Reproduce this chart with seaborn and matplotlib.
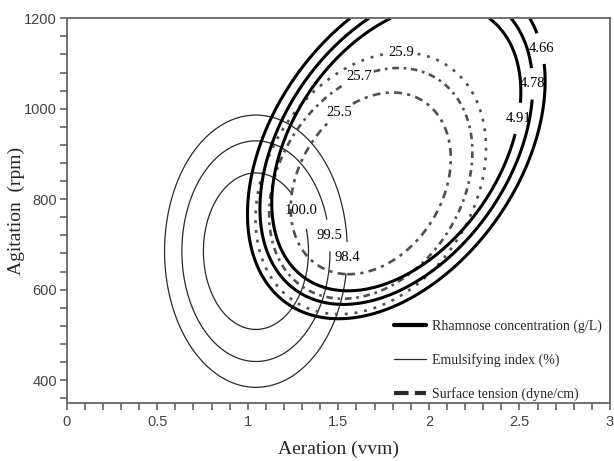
import numpy as np
import matplotlib
matplotlib.use("Agg")
import matplotlib.pyplot as plt
from matplotlib.lines import Line2D
from matplotlib.ticker import MultipleLocator, FormatStrFormatter
import seaborn as sns

# axis ranges
AERATION_LIM = [0, 3]
AGITATION_LIM = [350, 1200]
RPM_PER_VVM = 400  # one vvm spans the same length as 400 rpm on the plot

# Rhamnose concentration (g/L) - thick solid contours
rham_levels = [4.91, 4.78, 4.66]
rham_scale = [1.0, 1.095, 1.195]
rham_center = [1.82, 914]
rham_axes = [0.88, 0.57]
rham_angle = 55

# Surface tension (dyne/cm) - dashed contours
surf_levels = [25.5, 25.7, 25.9]
surf_scale = [1.0, 1.27, 1.44]
surf_center = [1.679, 835]
surf_axes = [0.539, 0.396]
surf_angle = 57.6

# Emulsifying index (%) - thin contours
emul_levels = [100.0, 99.5, 98.4]
emul_scale = [1.0, 1.41, 1.74]
emul_center = [1.045, 685]
emul_axes = [0.4325, 0.29]
emul_angle = 90

legend_labels = ["Rhamnose concentration (g/L)", "Emulsifying index (%)",
                 "Surface tension (dyne/cm)"]

# label spots (aeration, agitation), one per level
rham_label_pos = [(2.47, 980), (2.56, 1055), (2.64, 1135)]
surf_label_pos = [(1.52, 985), (1.62, 1065), (1.85, 1120)]
emul_label_pos = [(1.29, 775), (1.45, 720), (1.56, 670)]

# line styles per level
rham_styles = ["solid", "solid", "solid"]
surf_styles = [(0, (3, 2, 1.2, 2)), (0, (2.5, 1.8, 1, 1.8)), (0, (1.1, 2.6))]
emul_styles = ["solid", "solid", "solid"]

xx = np.linspace(AERATION_LIM[0], AERATION_LIM[1], 500)
yy = np.linspace(AGITATION_LIM[0], AGITATION_LIM[1], 500)
XX, YY = np.meshgrid(xx, yy)


def ellipse_field(center, axes, angle):
    dx = XX - center[0]
    dv = (YY - center[1]) / RPM_PER_VVM
    t = np.deg2rad(angle)
    p = dx * np.cos(t) + dv * np.sin(t)
    q = -dx * np.sin(t) + dv * np.cos(t)
    return np.hypot(p / axes[0], q / axes[1])


def draw_family(ax, center, axes, angle, scale, levels, fmt, label_pos, styles,
                color, lw):
    field = ellipse_field(center, axes, angle)
    for s, v, pos, ls in zip(scale, levels, label_pos, styles):
        cs = ax.contour(XX, YY, field, levels=[s], colors=color, linewidths=lw,
                        linestyles=[ls])
        ax.clabel(cs, fmt={cs.levels[0]: fmt.format(v)}, manual=[pos], inline=True,
                  inline_spacing=3, fontsize=10.5, colors="black")
        for t in cs.labelTexts:
            t.set_rotation(0)


sns.set_theme(style="ticks")
plt.rcParams["font.family"] = ["Liberation Serif", "DejaVu Serif"]

fig = plt.figure(figsize=(6.14, 4.61), dpi=100)
ax = fig.add_axes([0.1086, 0.1265, 0.8849, 0.8338])

draw_family(ax, emul_center, emul_axes, emul_angle, emul_scale, emul_levels,
            "{:.1f}", emul_label_pos, emul_styles, "#2a2a2a", 0.9)
draw_family(ax, surf_center, surf_axes, surf_angle, surf_scale, surf_levels,
            "{:.1f}", surf_label_pos, surf_styles, "#505050", 1.9)
draw_family(ax, rham_center, rham_axes, rham_angle, rham_scale, rham_levels,
            "{:.2f}", rham_label_pos, rham_styles, "black", 2.2)

ax.set_xlim(AERATION_LIM)
ax.set_ylim(AGITATION_LIM)
ax.xaxis.set_major_locator(MultipleLocator(0.5))
ax.xaxis.set_minor_locator(MultipleLocator(0.1))
ax.yaxis.set_major_locator(MultipleLocator(200))
ax.yaxis.set_minor_locator(MultipleLocator(40))
ax.xaxis.set_major_formatter(FormatStrFormatter("%g"))
ax.tick_params(which="both", direction="out", length=5, width=1.1,
               color="#555555", labelcolor="#444444", labelsize=10.5,
               labelfontfamily="Liberation Sans")
ax.tick_params(axis="x", pad=4)
ax.tick_params(axis="y", pad=2)
for sp in ax.spines.values():
    sp.set_color("#666666")
    sp.set_linewidth(1.3)

ax.set_xlabel("Aeration (vvm)", fontsize=14, labelpad=8)
ax.set_ylabel("Agitation  (rpm)", fontsize=14, labelpad=-1)

handles = [Line2D([], [], color="black", lw=3),
           Line2D([], [], color="#2a2a2a", lw=0.9),
           Line2D([], [], color="#2a2a2a", lw=3, linestyle=(0, (3.5, 1.5)))]
ax.legend(handles, legend_labels, loc="lower left", bbox_to_anchor=(0.603, 0.005),
          frameon=False, fontsize=10, handlelength=2.3, handletextpad=0.4,
          labelspacing=1.45, borderpad=0, borderaxespad=0)

fig.savefig("out.png", dpi=100)
